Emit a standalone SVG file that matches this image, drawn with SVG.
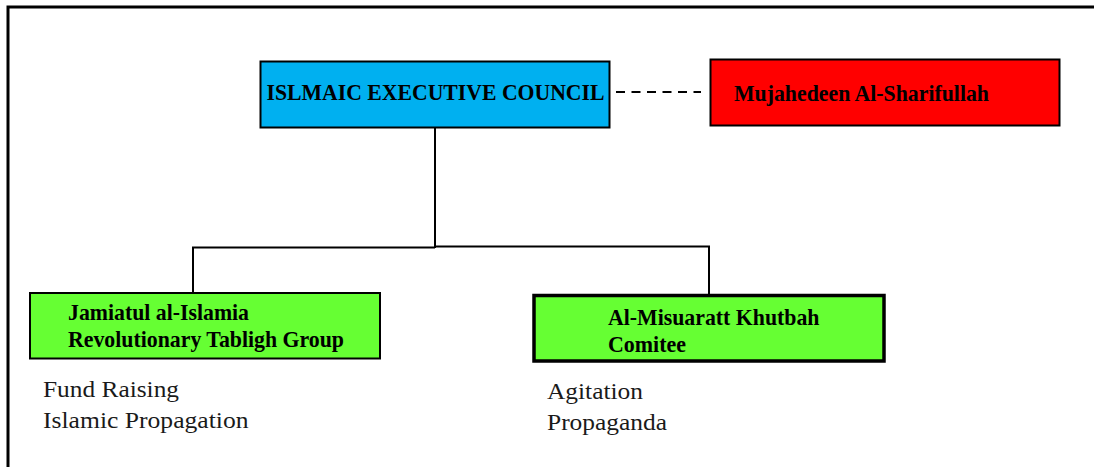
<svg xmlns="http://www.w3.org/2000/svg" width="1094" height="467" viewBox="0 0 1094 467">
  <style>
    .box { stroke: #000; stroke-width: 2; }
    .title { font-family: "Liberation Serif", "Times New Roman", serif; font-weight: bold; font-size: 22.5px; fill: #000; }
    .note { font-family: "Liberation Serif", "Times New Roman", serif; font-size: 24px; fill: #1a1a1a; }
    .link { fill: none; stroke: #000; stroke-width: 2; }
  </style>
  <rect width="1094" height="467" fill="#fff"/>
  <!-- outer frame -->
  <path d="M8,470 V7 H1094" fill="none" stroke="#000" stroke-width="3"/>

  <g id="connectors">
    <line class="link" x1="616" y1="92" x2="701" y2="92" stroke-width="2.5" stroke-dasharray="9,6.5"/>
    <path class="link" d="M435,128 V248"/>
    <path class="link" d="M193,293 V247.5 H435"/>
    <path class="link" d="M435,246.5 H709 V294"/>
  </g>

  <g id="executive-council">
    <rect class="box" x="260.5" y="61.5" width="349" height="66" fill="#00B0F0"/>
    <text class="title" x="266.5" y="100" textLength="338" lengthAdjust="spacingAndGlyphs">ISLMAIC EXECUTIVE COUNCIL</text>
  </g>

  <g id="mujahedeen">
    <rect class="box" x="710.5" y="59.5" width="349" height="66" fill="#FF0000"/>
    <text class="title" x="734" y="101" textLength="255" lengthAdjust="spacingAndGlyphs">Mujahedeen Al-Sharifullah</text>
  </g>

  <g id="jamiatul">
    <rect class="box" x="30" y="293" width="350" height="65.5" fill="#66FF33"/>
    <text class="title" x="68" y="320" textLength="181" lengthAdjust="spacingAndGlyphs">Jamiatul al-Islamia</text>
    <text class="title" x="68" y="346.5" textLength="276" lengthAdjust="spacingAndGlyphs">Revolutionary Tabligh Group</text>
    <text class="note" x="43" y="397" textLength="136" lengthAdjust="spacingAndGlyphs">Fund Raising</text>
    <text class="note" x="43" y="427.5" textLength="205.5" lengthAdjust="spacingAndGlyphs">Islamic Propagation</text>
  </g>

  <g id="khutbah">
    <rect x="534" y="295.5" width="350" height="65.5" fill="#66FF33" stroke="#000" stroke-width="3.5"/>
    <text class="title" x="608" y="325" textLength="211.5" lengthAdjust="spacingAndGlyphs">Al-Misuaratt Khutbah</text>
    <text class="title" x="608" y="351.5" textLength="78" lengthAdjust="spacingAndGlyphs">Comitee</text>
    <text class="note" x="547" y="399" textLength="96" lengthAdjust="spacingAndGlyphs">Agitation</text>
    <text class="note" x="547" y="430" textLength="120" lengthAdjust="spacingAndGlyphs">Propaganda</text>
  </g>
</svg>
